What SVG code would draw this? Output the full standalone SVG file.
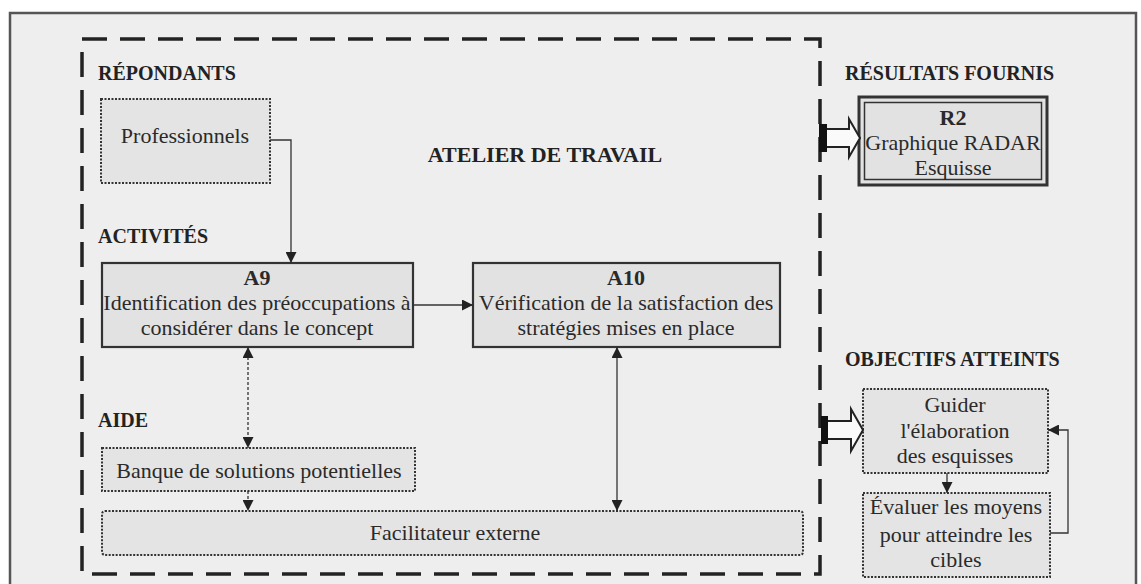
<svg xmlns="http://www.w3.org/2000/svg" width="1141" height="584" viewBox="0 0 1141 584">
  <defs>
    <style>
      .frame { fill: #eeeeee; stroke: #555; stroke-width: 2.5; }
      .zone { fill: none; stroke: #222; stroke-width: 3.5; stroke-dasharray: 25 13; }
      .box { fill: #e2e2e2; stroke: #333; stroke-width: 2.2; }
      .dot { fill: #e4e4e4; stroke: #333; stroke-width: 2; stroke-dasharray: 2 1.5; }
      .head { font-family: "Liberation Serif", "Times New Roman", serif; font-weight: bold; font-size: 20px; fill: #222; }
      .title { font-family: "Liberation Serif", "Times New Roman", serif; font-weight: bold; font-size: 22px; fill: #222; }
      .body { font-family: "Liberation Serif", "Times New Roman", serif; font-size: 22px; fill: #2a2a2a; text-anchor: middle; }
      .bold { font-weight: bold; }
      .link { fill: none; stroke: #333; stroke-width: 1.3; }
      .dlink { fill: none; stroke: #333; stroke-width: 1.3; stroke-dasharray: 3 2; }
      .block { fill: #fafafa; stroke: #222; stroke-width: 2; stroke-linejoin: miter; }
    </style>
    <marker id="arr" viewBox="0 0 10 10" refX="10" refY="5" markerWidth="11" markerHeight="11" markerUnits="userSpaceOnUse" orient="auto-start-reverse">
      <path d="M0,0 L10,5 L0,10 Z" fill="#222"/>
    </marker>
  </defs>

  <rect width="1141" height="584" fill="#ffffff"/>
  <rect class="frame" x="10" y="13" width="1126" height="590"/>

  <!-- workshop zone -->
  <rect class="zone" x="82" y="39" width="738" height="535"/>

  <!-- section headings -->
  <text class="head" x="98" y="80">RÉPONDANTS</text>
  <text class="head" x="98" y="243">ACTIVITÉS</text>
  <text class="head" x="98" y="427">AIDE</text>
  <text class="title" x="545" y="162" text-anchor="middle">ATELIER DE TRAVAIL</text>
  <text class="head" x="845" y="80">RÉSULTATS FOURNIS</text>
  <text class="head" x="845" y="366">OBJECTIFS ATTEINTS</text>

  <g id="professionnels">
    <rect class="dot" x="101" y="99" width="169" height="84"/>
    <text class="body" x="185" y="143">Professionnels</text>
  </g>

  <g id="a9">
    <rect class="box" x="102" y="263" width="311" height="84"/>
    <text class="body bold" x="257" y="285">A9</text>
    <text class="body" x="257" y="310">Identification des préoccupations à</text>
    <text class="body" x="257" y="335">considérer dans le concept</text>
  </g>

  <g id="a10">
    <rect class="box" x="473" y="263" width="307" height="84"/>
    <text class="body bold" x="626" y="285">A10</text>
    <text class="body" x="626" y="310">Vérification de la satisfaction des</text>
    <text class="body" x="626" y="335">stratégies mises en place</text>
  </g>

  <g id="banque">
    <rect class="dot" x="102" y="448" width="313" height="43"/>
    <text class="body" x="259" y="478">Banque de solutions potentielles</text>
  </g>

  <g id="facilitateur">
    <rect class="dot" x="102" y="511" width="701" height="44" rx="3"/>
    <text class="body" x="455" y="540">Facilitateur externe</text>
  </g>

  <g id="r2">
    <rect x="859" y="97" width="188" height="88" fill="#e2e2e2" stroke="#333" stroke-width="3"/>
    <rect x="864.5" y="102.5" width="177" height="77" fill="none" stroke="#333" stroke-width="1.5"/>
    <text class="body bold" x="953" y="125">R2</text>
    <text class="body" x="953" y="150">Graphique RADAR</text>
    <text class="body" x="953" y="175">Esquisse</text>
  </g>

  <g id="guider">
    <rect class="dot" x="863" y="389" width="185" height="84"/>
    <text class="body" x="955" y="412">Guider</text>
    <text class="body" x="955" y="438">l'élaboration</text>
    <text class="body" x="955" y="463">des esquisses</text>
  </g>

  <g id="evaluer">
    <rect class="dot" x="863" y="493" width="187" height="84"/>
    <text class="body" x="956" y="514">Évaluer les moyens</text>
    <text class="body" x="956" y="542">pour atteindre les</text>
    <text class="body" x="956" y="567">cibles</text>
  </g>

  <g id="connectors">
    <path class="link" d="M270,140 H291 V263" marker-end="url(#arr)"/>
    <path class="link" d="M413,305 H473" marker-end="url(#arr)"/>
    <path class="dlink" d="M248,347 V448" marker-start="url(#arr)" marker-end="url(#arr)"/>
    <path class="dlink" d="M248,491 V511" marker-end="url(#arr)"/>
    <path class="link" d="M617,347 V511" marker-start="url(#arr)" marker-end="url(#arr)"/>
    <path class="link" d="M947,473 V493" marker-end="url(#arr)"/>
    <path class="link" d="M1050,533 H1068 V430 H1048" marker-end="url(#arr)"/>

    <!-- outlined block arrows leaving the workshop -->
    <g id="to-results">
      <path class="block" d="M826,129 H849 V119 L860,138 L849,157 V147 H826 Z"/>
      <rect x="819" y="124" width="8" height="28" fill="#111"/>
    </g>
    <g id="to-objectives">
      <path class="block" d="M827,421 H851 V409 L863,430 L851,451 V439 H827 Z"/>
      <rect x="821" y="416" width="7" height="28" fill="#111"/>
    </g>
  </g>
</svg>
